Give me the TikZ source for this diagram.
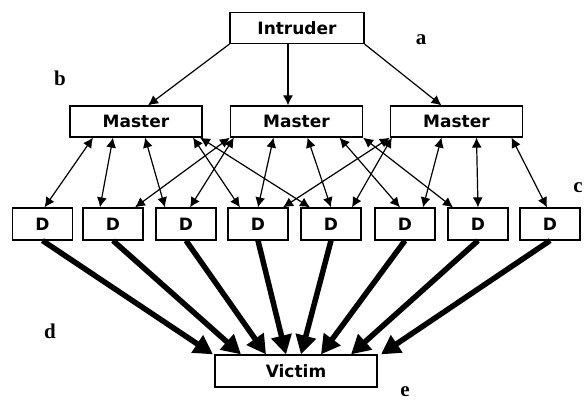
\documentclass[tikz,border=0pt]{standalone}
\usepackage{fontspec}
\setmainfont{Liberation Serif}
\newfontfamily\boxfont{DejaVu Sans}
\usetikzlibrary{arrows.meta}

\begin{document}
\begin{tikzpicture}[x=1pt, y=-1pt,
    box/.style = {draw, line width=1.2pt, inner sep=0pt, minimum height=31pt, font=\boxfont\bfseries\fontsize{17}{17}\selectfont},
    tag/.style = {inner sep=0pt, font=\bfseries\fontsize{21}{21}\selectfont},
    order/.style = {-{Latex[length=10pt,width=10pt]}, line width=1.2pt},
    link/.style = {{Latex[length=10pt,width=10pt]}-{Latex[length=10pt,width=10pt]}, line width=1.2pt},
    flood/.style = {-{Triangle[length=19pt,width=20pt]}, line width=5.5pt}]
        \useasboundingbox (0,0) rectangle (584,403);
        \node[box, minimum width=134pt] (i) at (297,28) {Intruder};
        \node[box, minimum width=132pt] (m1) at (136,121.5) {Master};
        \node[box, minimum width=132pt] (m2) at (296.5,121.5) {Master};
        \node[box, minimum width=132pt] (m3) at (456.5,121.5) {Master};
        \node[box, minimum width=60pt, minimum height=32pt] (d1) at (42.5,224) {D};
        \node[box, minimum width=60pt, minimum height=32pt] (d2) at (113,224) {D};
        \node[box, minimum width=60pt, minimum height=32pt] (d3) at (186,224) {D};
        \node[box, minimum width=60pt, minimum height=32pt] (d4) at (258,224) {D};
        \node[box, minimum width=60pt, minimum height=32pt] (d5) at (331,224) {D};
        \node[box, minimum width=60pt, minimum height=32pt] (d6) at (405,224) {D};
        \node[box, minimum width=60pt, minimum height=32pt] (d7) at (478,224) {D};
        \node[box, minimum width=60pt, minimum height=32pt] (d8) at (550,224) {D};
        \node[box, minimum width=162pt, minimum height=32pt] (v) at (296,371) {Victim};
        \node[tag] (a) at (421,40) {a};
        \node[tag] (b) at (60,78) {b};
        \node[tag, anchor=east] (c) at (583,188) {c};
        \node[tag] (d) at (50,331) {d};
        \node[tag] (e) at (405,392) {e};
        %
        \draw[order] (i.south west) -- ([xshift=12pt]m1.north);
        \draw[order] ([xshift=-9pt]i.south) -- ([xshift=-8.5pt]m2.north);
        \draw[order] (i.south east) -- ([xshift=-15pt]m3.north);
        %
        \draw[link] ([xshift=-43pt]m1.south) -- ([xshift=2pt]d1.north);
        \draw[link] ([xshift=-23pt]m1.south) -- ([xshift=-13pt]d2.north);
        \draw[link] ([xshift=9pt]m1.south) -- ([xshift=-21pt]d3.north);
        \draw[link] ([xshift=57pt]m1.south) -- ([xshift=-18pt]d4.north);
        \draw[link] ([xshift=64pt]m1.south) -- ([xshift=-21pt]d5.north);
        \draw[link] (m2.south west) -- ([xshift=22pt]d2.north);
        \draw[link] ([xshift=4pt]m2.south west) -- ([xshift=4pt]d3.north);
        \draw[link] ([xshift=-23pt]m2.south) -- (d4.north);
        \draw[link] ([xshift=11pt]m2.south) -- (d5.north);
        \draw[link] ([xshift=43pt]m2.south) -- ([xshift=-5pt]d6.north);
        \draw[link] (m2.south east) -- ([xshift=-25pt]d7.north);
        \draw[link] (m3.south west) -- ([xshift=25pt]d4.north);
        \draw[link] ([xshift=2pt]m3.south west) -- ([xshift=21pt]d5.north);
        \draw[link] ([xshift=-15pt]m3.south) -- ([xshift=18pt]d6.north);
        \draw[link] ([xshift=20pt]m3.south) -- (d7.north);
        \draw[link] ([xshift=55pt]m3.south) -- ([xshift=-3pt]d8.north);
        %
        \draw[flood] (d1.south) -- ([xshift=-83pt]v.north);
        \draw[flood] (d2.south) -- ([xshift=-55pt]v.north);
        \draw[flood] (d3.south) -- ([xshift=-30pt]v.north);
        \draw[flood] (d4.south) -- ([xshift=-10pt]v.north);
        \draw[flood] (d5.south) -- ([xshift=5pt]v.north);
        \draw[flood] (d6.south) -- ([xshift=25pt]v.north);
        \draw[flood] (d7.south) -- ([xshift=55pt]v.north);
        \draw[flood] (d8.south) -- ([xshift=85pt]v.north);
      \end{tikzpicture}
\end{document}
